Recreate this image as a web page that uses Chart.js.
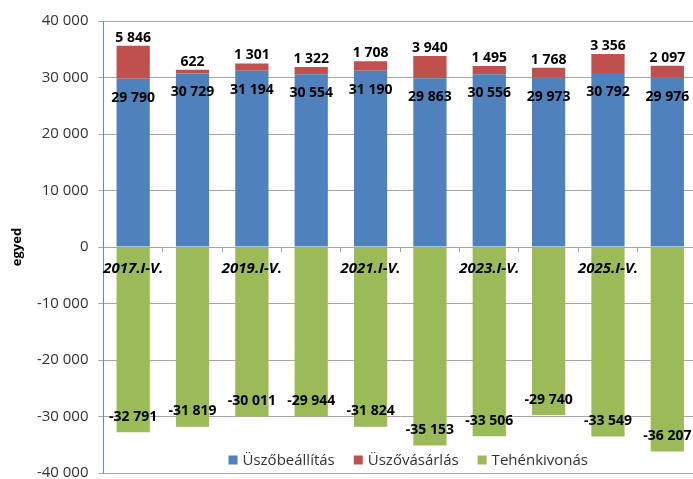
<!DOCTYPE html>
<html>
<head>
<meta charset="utf-8">
<script src="https://cdn.jsdelivr.net/npm/chart.js@4/dist/chart.umd.min.js"></script>
<style>
html,body{margin:0;padding:0;background:#fff;overflow:hidden;}
#wrap{position:absolute;left:0;top:0;width:697px;height:479px;}
</style>
</head>
<body>
<div id="wrap"><canvas id="c" width="697" height="479"></canvas></div>
<script>
const categories = ['2017.I-V.','2018.I-V.','2019.I-V.','2020.I-V.','2021.I-V.','2022.I-V.','2023.I-V.','2024.I-V.','2025.I-V.','2026.I-V.'];
const uszobeallitas = [29790, 30729, 31194, 30554, 31190, 29863, 30556, 29973, 30792, 29976];
const uszovasarlas = [5846, 622, 1301, 1322, 1708, 3940, 1495, 1768, 3356, 2097];
const tehenkivonas = [-32791, -31819, -30011, -29944, -31824, -35153, -33506, -29740, -33549, -36207];
const seriesNames = ['Üszőbeállítás', 'Üszővásárlás', 'Tehénkivonás'];
const seriesColors = ['#4F81BD', '#C0504D', '#9BBB59'];
const yTicks = [-40000, -30000, -20000, -10000, 0, 10000, 20000, 30000, 40000];

const FONT = "'Open Sans', 'DejaVu Sans', sans-serif";

function fmt(v) {
  const s = Math.abs(Math.round(v)).toString().replace(/\B(?=(\d{3})+(?!\d))/g, ' ');
  return (v < 0 ? '-' : '') + s;
}

const labelPlugin = {
  id: 'barLabels',
  afterDatasetsDraw(chart) {
    const ctx = chart.ctx;
    ctx.save();
    ctx.font = "bold 14px " + FONT;
    ctx.fillStyle = '#000';
    ctx.textAlign = 'center';
    ctx.textBaseline = 'middle';
    chart.data.datasets.forEach((ds, di) => {
      const meta = chart.getDatasetMeta(di);
      meta.data.forEach((el, i) => {
        const v = ds.data[i];
        let y;
        if (di === 0) y = el.y + 19;
        else if (di === 1) y = el.y - 8;
        else y = el.y - 15.5;
        ctx.fillText(fmt(v), el.x, y);
      });
    });
    ctx.restore();
  }
};

const legendPlugin = {
  id: 'innerLegend',
  afterDraw(chart) {
    const ctx = chart.ctx;
    const ca = chart.chartArea;
    ctx.save();
    ctx.font = "15px " + FONT;
    ctx.textBaseline = 'middle';
    ctx.textAlign = 'left';
    const box = 9, gapBox = 5, gapItem = 19;
    const ds = chart.data.datasets;
    let total = 0;
    ds.forEach((d, i) => {
      total += box + gapBox + ctx.measureText(d.label).width;
      if (i < ds.length - 1) total += gapItem;
    });
    let x = (ca.left + ca.right) / 2 - total / 2 + 8;
    const yc = chart.scales.y.getPixelForValue(-40000) - 13;
    ds.forEach((d) => {
      ctx.fillStyle = d.backgroundColor;
      ctx.fillRect(x, yc - box / 2, box, box);
      x += box + gapBox;
      ctx.fillStyle = '#333';
      ctx.fillText(d.label, x, yc + 1);
      x += ctx.measureText(d.label).width + gapItem;
    });
    ctx.restore();
  }
};

new Chart(document.getElementById('c'), {
  type: 'bar',
  data: {
    labels: categories,
    datasets: [
      { label: seriesNames[0], data: uszobeallitas, backgroundColor: seriesColors[0] },
      { label: seriesNames[1], data: uszovasarlas, backgroundColor: seriesColors[1] },
      { label: seriesNames[2], data: tehenkivonas, backgroundColor: seriesColors[2] }
    ]
  },
  options: {
    responsive: false,
    animation: false,
    events: [],
    layout: { padding: { top: 21, bottom: 6, left: 0, right: 0 } },
    datasets: { bar: { barPercentage: 0.56, categoryPercentage: 1 } },
    plugins: { legend: { display: false }, tooltip: { enabled: false } },
    scales: {
      x: {
        stacked: true,
        position: { y: 0 },
        offset: true,
        grid: { display: true, drawOnChartArea: false, drawTicks: true, tickLength: 5, offset: true, color: '#A0A0A0', z: -1 },
        border: { display: false },
        ticks: {
          z: 1,
          autoSkip: false,
          maxRotation: 0,
          padding: 8,
          color: '#000',
          font: { family: FONT, size: 15, weight: 'bold', style: 'italic' },
          callback: function(val, idx) { return idx % 2 === 0 ? categories[idx] : ''; }
        },
        afterFit: function(s) { s.paddingLeft = 0; s.paddingRight = 0; }
      },
      y: {
        stacked: true,
        min: -40000,
        max: 40000,
        afterBuildTicks: function(s) { s.ticks = yTicks.map(v => ({ value: v })); },
        grid: { color: '#A6A6A6', lineWidth: 1, drawTicks: true, tickLength: 5, tickColor: '#A6A6A6' },
        border: { display: true, color: '#5B8ED0', width: 1 },
        ticks: {
          padding: 10,
          color: '#333',
          font: { family: FONT, size: 15 },
          callback: function(v) { return fmt(v); }
        },
        title: {
          display: true,
          text: 'egyed',
          color: '#000',
          font: { family: FONT, size: 13, weight: 'bold' },
          padding: { top: 9, bottom: 0 }
        },
        afterFit: function(s) { s.width = 103.5; s.paddingTop = 0; s.paddingBottom = 0; }
      }
    }
  },
  plugins: [labelPlugin, legendPlugin]
});
</script>
</body>
</html>
